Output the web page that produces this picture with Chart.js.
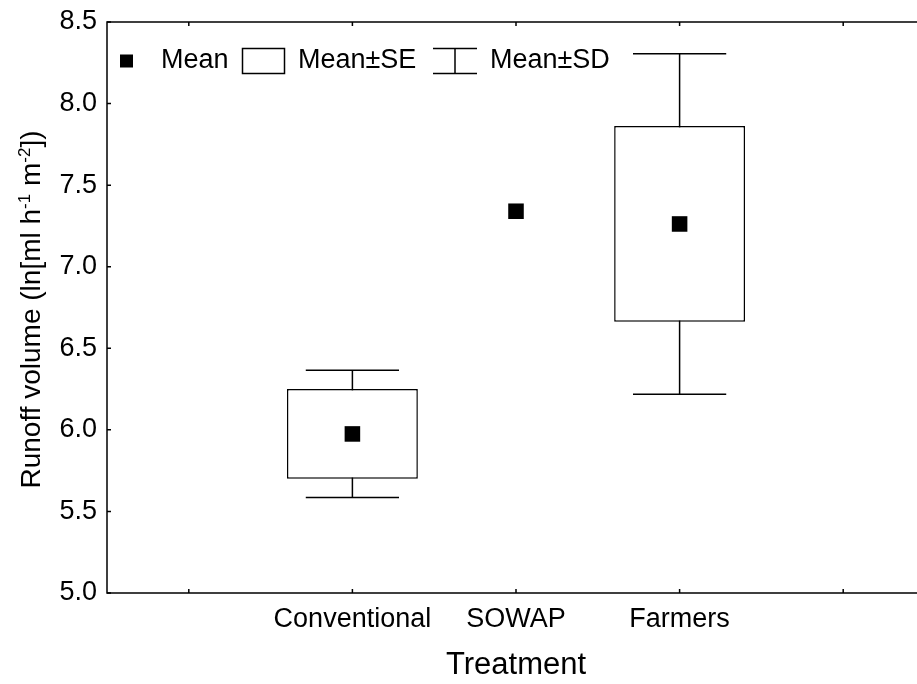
<!DOCTYPE html>
<html>
<head>
<meta charset="utf-8">
<script src="https://cdn.jsdelivr.net/npm/chart.js@4/dist/chart.umd.min.js"></script>
<style>
  html, body { margin: 0; padding: 0; background: #fff; overflow: hidden; }
  #wrap { width: 936px; height: 684px; }
</style>
</head>
<body>
<div id="wrap"><canvas id="c" width="936" height="684"></canvas></div>
<script>
// Treatment slots (empty slots at both ends keep the frame margins)
const categories = ['', 'Conventional', 'SOWAP', 'Farmers', ''];
// Runoff volume, ln[ml h-1 m-2]
const means     = [null, 5.975, 7.34, 7.262, null];
const stdErrors = [null, 0.275, null, 0.60,  null];
const stdDevs   = [null, 0.39,  null, 1.044, null];
// Value axis
const yMin = 5.0, yMax = 8.5, yStep = 0.5;

const FONT = '"Liberation Sans", Arial, Helvetica, sans-serif';
const BOX_FRACTION = 0.8;   // box width as share of a slot
const CAP_FRACTION = 0.57;  // whisker cap width as share of a slot

const seRanges = means.map((m, i) =>
  (m == null || stdErrors[i] == null) ? null : [m - stdErrors[i], m + stdErrors[i]]);

const boxPlotPlugin = {
  id: 'boxPlotDecor',
  beforeDatasetsDraw(chart) {
    // SD whiskers, drawn under the SE boxes
    const { ctx, scales: { x, y } } = chart;
    const slot = x.getPixelForValue(1) - x.getPixelForValue(0);
    const half = slot * CAP_FRACTION / 2;
    ctx.save();
    ctx.strokeStyle = '#000';
    ctx.lineWidth = 1.5;
    means.forEach((m, i) => {
      if (m == null || stdDevs[i] == null) return;
      const px = x.getPixelForValue(i);
      const top = y.getPixelForValue(m + stdDevs[i]);
      const bot = y.getPixelForValue(m - stdDevs[i]);
      ctx.beginPath();
      ctx.moveTo(px, top); ctx.lineTo(px, bot);
      ctx.moveTo(px - half, top); ctx.lineTo(px + half, top);
      ctx.moveTo(px - half, bot); ctx.lineTo(px + half, bot);
      ctx.stroke();
    });
    ctx.restore();
  },
  afterDraw(chart) {
    const { ctx, chartArea: a, scales: { x, y } } = chart;
    ctx.save();
    ctx.strokeStyle = '#000';
    ctx.fillStyle = '#000';

    // frame
    ctx.lineWidth = 1.5;
    ctx.beginPath();
    ctx.moveTo(a.right, a.top); ctx.lineTo(a.left, a.top);
    ctx.lineTo(a.left, a.bottom); ctx.lineTo(a.right, a.bottom);
    ctx.lineTo(a.right, a.top);
    ctx.stroke();

    // inward tick marks
    const tl = 4;
    ctx.beginPath();
    y.ticks.forEach(t => {
      const py = y.getPixelForValue(t.value);
      ctx.moveTo(a.left, py); ctx.lineTo(a.left + tl, py);
      ctx.moveTo(a.right, py); ctx.lineTo(a.right - tl, py);
    });
    categories.forEach((c, i) => {
      const px = x.getPixelForValue(i);
      ctx.moveTo(px, a.bottom); ctx.lineTo(px, a.bottom - tl);
      ctx.moveTo(px, a.top); ctx.lineTo(px, a.top + tl);
    });
    ctx.stroke();

    // legend
    const lx = a.left, ly = a.top + 39;
    ctx.font = `27px ${FONT}`;
    ctx.textBaseline = 'middle';
    ctx.textAlign = 'left';
    ctx.fillRect(lx + 13, ly - 6.5, 13, 13);
    ctx.fillText('Mean', lx + 54, ly);
    ctx.lineWidth = 1.5;
    ctx.strokeRect(lx + 135.5, ly - 12.5, 42, 25);
    ctx.fillText('Mean\u00B1SE', lx + 191, ly);
    const wx = lx + 348;
    ctx.beginPath();
    ctx.moveTo(wx - 22, ly - 12.5); ctx.lineTo(wx + 22, ly - 12.5);
    ctx.moveTo(wx - 22, ly + 12.5); ctx.lineTo(wx + 22, ly + 12.5);
    ctx.moveTo(wx, ly - 12.5); ctx.lineTo(wx, ly + 12.5);
    ctx.stroke();
    ctx.fillText('Mean\u00B1SD', lx + 383, ly);

    // value axis title with superscripts
    const parts = [
      ['Runoff volume (ln[ml h', false],
      ['-1', true],
      [' m', false],
      ['-2', true],
      ['])', false]
    ];
    const big = `28px ${FONT}`, small = `17px ${FONT}`;
    let total = 0;
    parts.forEach(([t, sup]) => { ctx.font = sup ? small : big; total += ctx.measureText(t).width; });
    ctx.translate(30, (a.top + a.bottom) / 2 + 2);
    ctx.rotate(-Math.PI / 2);
    ctx.textBaseline = 'alphabetic';
    let u = -total / 2;
    parts.forEach(([t, sup]) => {
      ctx.font = sup ? small : big;
      ctx.fillText(t, u, sup ? 0 : 10);
      u += ctx.measureText(t).width;
    });
    ctx.restore();
  }
};

new Chart(document.getElementById('c'), {
  type: 'bar',
  data: {
    labels: categories,
    datasets: [
      {
        type: 'line',
        label: 'Mean',
        data: means,
        showLine: false,
        pointStyle: 'rect',
        pointRadius: 11,
        pointHoverRadius: 11,
        pointBorderWidth: 0,
        pointBackgroundColor: '#000',
        borderColor: '#000',
        order: 0
      },
      {
        type: 'bar',
        label: 'Mean\u00B1SE',
        data: seRanges,
        backgroundColor: '#fff',
        borderColor: '#000',
        borderWidth: 1.5,
        borderSkipped: false,
        categoryPercentage: BOX_FRACTION,
        barPercentage: 1.0,
        order: 1
      }
    ]
  },
  options: {
    responsive: false,
    devicePixelRatio: 1,
    animation: false,
    events: [],
    layout: { padding: { top: 22, right: 5, left: 0, bottom: 0 } },
    plugins: { legend: { display: false }, tooltip: { enabled: false } },
    scales: {
      x: {
        type: 'category',
        offset: true,
        grid: { display: false, drawTicks: false },
        border: { display: false },
        ticks: { color: '#000', font: { family: FONT, size: 27 }, padding: 10, maxRotation: 0, autoSkip: false },
        title: { display: true, text: 'Treatment', color: '#000', font: { family: FONT, size: 31 }, padding: { top: 0, bottom: 0 } },
        afterFit(s) { s.height = 91; s.paddingLeft = 0; s.paddingRight = 0; }
      },
      y: {
        min: yMin,
        max: yMax,
        grid: { display: false, drawTicks: false },
        border: { display: false },
        ticks: { stepSize: yStep, color: '#000', font: { family: FONT, size: 27 }, padding: 10,
                 callback: v => Number(v).toFixed(1) },
        afterFit(s) { s.width = 107; s.paddingTop = 0; s.paddingBottom = 0; }
      }
    }
  },
  plugins: [boxPlotPlugin]
});
</script>
</body>
</html>
